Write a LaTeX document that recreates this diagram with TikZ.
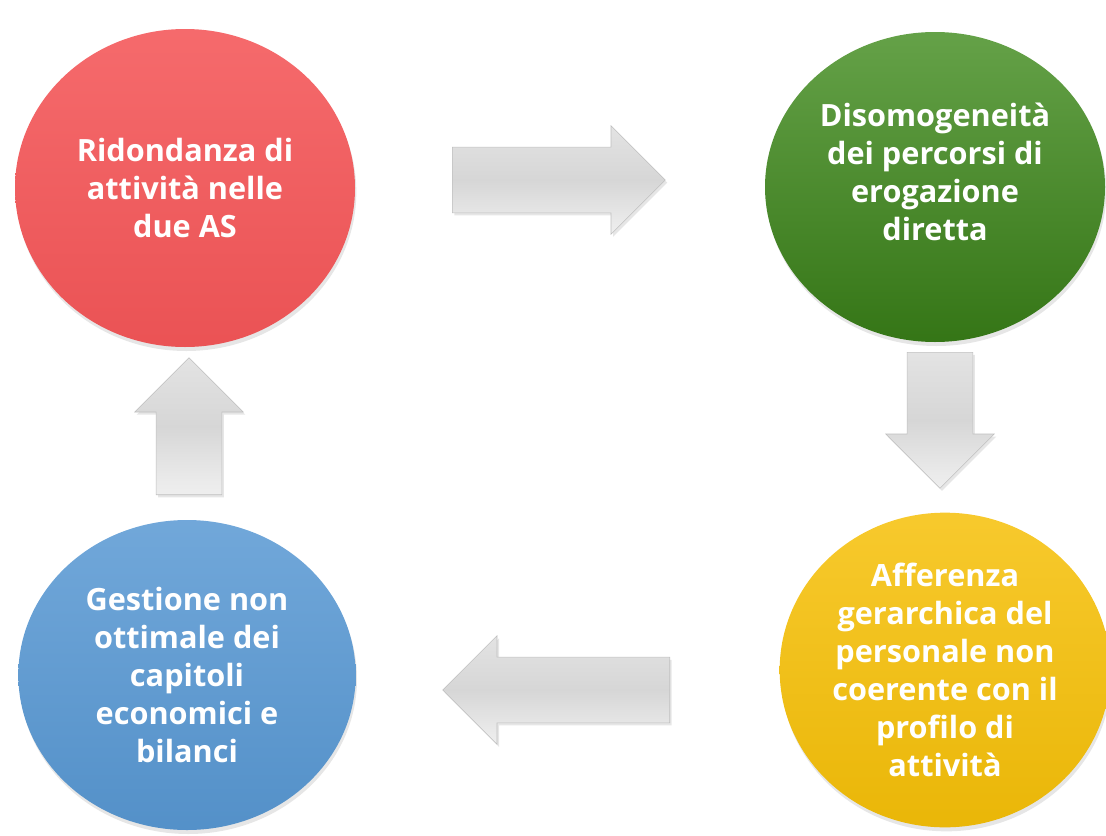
\documentclass[tikz,border=0pt]{standalone}
\usepackage{fontspec}
\setmainfont{Open Sans}
\usetikzlibrary{shapes.geometric,shapes.arrows,shadows}
\definecolor{rosso}{RGB}{244,86,88}
\definecolor{verde}{RGB}{62,138,26}
\definecolor{blu}{RGB}{88,152,211}
\definecolor{giallo}{RGB}{246,192,8}
\pgfdeclareverticalshading{freccia}{100bp}{color(0bp)=(white); color(30bp)=(black!8); color(50bp)=(black!16); color(70bp)=(black!12); color(100bp)=(black!5)}
\tikzset{
    problema/.style={ellipse,inner sep=0pt,align=center,text=white,
        font=\fontsize{23}{28.5}\selectfont\bfseries,
        drop shadow={opacity=0.2,shadow xshift=1pt,shadow yshift=-3pt}},%cerchi
    freccia/.style={single arrow,single arrow tip angle=90,anchor=tail,
        single arrow head extend=16.1pt,
        inner xsep=0pt,inner ysep=24.4pt,text height=0pt,text depth=0pt,
        shading=freccia,draw=black!25,line width=0.4pt,
        drop shadow={opacity=0.2,shadow xshift=1.5pt,shadow yshift=-2pt}}%frecce
    }
\begin{document}
\begin{tikzpicture}[x=0.75pt,y=-0.75pt]
\useasboundingbox (0,0) rectangle (1106,835);
\node[problema,minimum width=255pt,minimum height=238.5pt,top color=rosso!88!white,bottom color=rosso!96!black] (ridondanza) at (185,188) {Ridondanza di\\attività nelle\\due AS};
\node[problema,minimum width=255pt,minimum height=232.5pt,top color=verde!80!white,bottom color=verde!85!black] (disomog) at (935,187) {Disomogeneità\\dei percorsi di\\erogazione\\diretta\\[-6pt]\mbox{}};
\node[problema,minimum width=248pt,minimum height=236pt,top color=giallo!85!white,bottom color=giallo!95!black] (afferenza) at (945,670) {Afferenza\\gerarchica del\\personale non\\coerente con il\\profilo di\\attività};
\node[problema,minimum width=253pt,minimum height=232.5pt,top color=blu!85!white,bottom color=blu!95!black] (gestione) at (187,675) {Gestione non\\ottimale dei\\capitoli\\economici e\\bilanci};
% frecce del ciclo
\node[freccia,minimum height=159.75pt] (f1) at (452,180) {};
\node[freccia,minimum height=102pt,rotate=-90] (f2) at (940,352) {};
\node[freccia,minimum height=170.25pt,rotate=180] (f3) at (670,690) {};
\node[freccia,minimum height=102.75pt,rotate=90] (f4) at (189,495) {};
\end{tikzpicture}
\end{document}
